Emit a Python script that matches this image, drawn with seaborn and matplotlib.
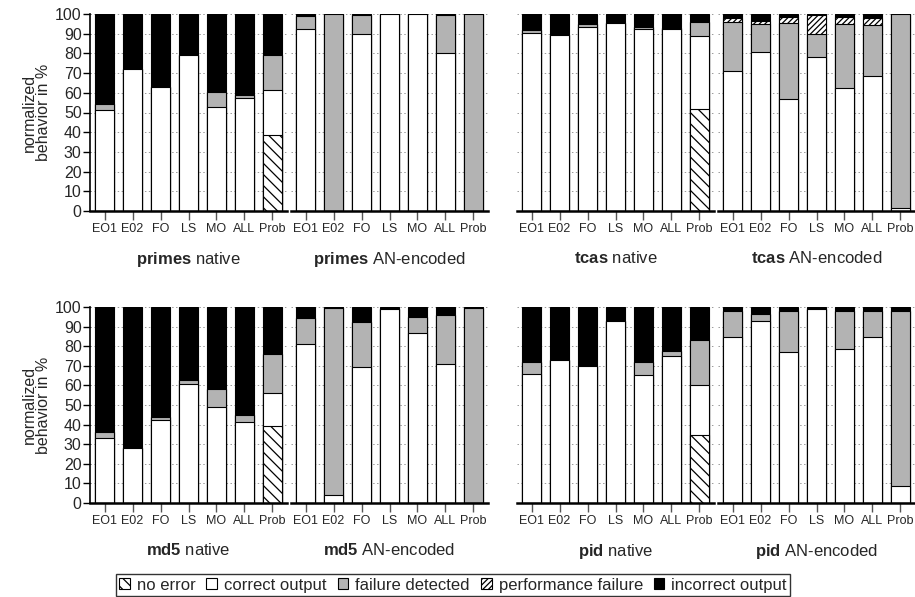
import matplotlib
matplotlib.use("Agg")
import matplotlib.pyplot as plt
from matplotlib.patches import Patch
import seaborn as sns
import numpy as np

sns.set_style("white")
plt.rcParams['font.family'] = ['Liberation Sans', 'DejaVu Sans']
plt.rcParams['mathtext.fontset'] = 'custom'
plt.rcParams['mathtext.rm'] = 'Liberation Sans'
plt.rcParams['mathtext.bf'] = 'Liberation Sans:bold'
plt.rcParams['hatch.linewidth'] = 0.9
plt.rcParams['hatch.color'] = 'black'

cats = ["EO1", "E02", "FO", "LS", "MO", "ALL", "Prob"]
legend_labels = ["no error", "correct output", "failure detected", "performance failure", "incorrect output"]

# order of segments: no error, correct, failure detected, performance failure, incorrect
primes_native = [
    [0, 0, 0, 0, 0, 0, 38.5],
    [51.5, 72, 63, 79, 53, 57.5, 23],
    [2.7, 0, 0, 0, 7.2, 1.5, 17.7],
    [0, 0, 0, 0, 0, 0, 0],
    [45.8, 28, 37, 21, 39.8, 41, 20.8],
]
primes_an = [
    [0, 0, 0, 0, 0, 0, 0],
    [92.6, 0, 89.9, 100, 99.8, 80.4, 0],
    [6.2, 100, 9.4, 0, 0, 19.1, 100],
    [0, 0, 0, 0, 0, 0, 0],
    [1.2, 0, 0.7, 0, 0.2, 0.5, 0],
]
tcas_native = [
    [0, 0, 0, 0, 0, 0, 52],
    [90.6, 89.2, 93.3, 95.4, 92.3, 92.5, 36.6],
    [1.1, 0, 1.7, 0, 0.9, 0.5, 7.3],
    [0, 0, 0, 0, 0, 0, 0],
    [8.3, 10.8, 5, 4.6, 6.8, 7, 4.1],
]
tcas_an = [
    [0, 0, 0, 0, 0, 0, 0],
    [71.2, 80.9, 56.9, 78.3, 62.3, 68.6, 1.4],
    [24.5, 14.1, 38.3, 11.5, 32.7, 25.6, 98.6],
    [2.1, 1.2, 3.1, 9.5, 3.3, 3.7, 0],
    [2.2, 3.8, 1.7, 0.7, 1.7, 2.1, 0],
]
md5_native = [
    [0, 0, 0, 0, 0, 0, 39.3],
    [33.2, 28.1, 42.5, 60.5, 49, 41.3, 16.6],
    [3, 0, 1.2, 2.4, 9.3, 3.6, 20.3],
    [0, 0, 0, 0, 0, 0, 0],
    [63.8, 71.9, 56.3, 37.1, 41.7, 55.1, 23.8],
]
md5_an = [
    [0, 0, 0, 0, 0, 0, 0],
    [80.9, 4.1, 69.4, 99, 86.7, 70.7, 0],
    [13.5, 95.5, 22.9, 0, 8.2, 25.2, 99.7],
    [0, 0, 0, 0, 0, 0, 0],
    [5.6, 0.4, 7.7, 1, 5.1, 4.1, 0.3],
]
pid_native = [
    [0, 0, 0, 0, 0, 0, 34.7],
    [65.8, 73.1, 69.7, 92.7, 65.3, 75, 25.5],
    [6.3, 0, 0, 0, 6.8, 2.7, 23.1],
    [0, 0, 0, 0, 0, 0, 0],
    [27.9, 26.9, 30.3, 7.3, 27.9, 22.3, 16.7],
]
pid_an = [
    [0, 0, 0, 0, 0, 0, 0],
    [84.5, 92.7, 77, 99, 78.6, 84.7, 8.5],
    [13.6, 3.5, 21, 0, 19.5, 13.4, 89.6],
    [0, 0, 0, 0, 0, 0, 0],
    [1.9, 3.8, 2, 1, 1.9, 1.9, 1.9],
]

gray = "#b3b3b3"
seg_styles = [("white", "\\\\\\"), ("white", ""), (gray, ""), ("white", "//////"), ("black", "")]


def draw_panel(ax, data, name, variant, show_y):
    tops = np.cumsum(np.array(data, dtype=float), axis=0)
    # draw from the tallest cumulative layer down so each segment shows
    for i in reversed(range(len(tops))):
        col, hatch = seg_styles[i]
        sns.barplot(x=cats, y=tops[i], color=col, saturation=1, hatch=hatch,
                    edgecolor="black", linewidth=0.8, width=0.71,
                    errorbar=None, ax=ax)
    ax.set_xlim(-0.52, 6.52)
    ax.set_ylim(0, 100)
    ax.set_yticks(range(0, 101, 10))
    ax.yaxis.grid(True, linestyle=(0, (1.5, 2.5)), color="#999999", linewidth=0.7)
    ax.set_axisbelow(True)
    for s in ["top", "right"]:
        ax.spines[s].set_visible(False)
    ax.spines["bottom"].set_linewidth(1.8)
    ax.spines["bottom"].set_color("black")
    ax.tick_params(axis="x", bottom=True, length=6.5, width=1, color="#555555",
                   labelsize=9, pad=2)
    if show_y:
        ax.spines["left"].set_linewidth(1.2)
        ax.spines["left"].set_color("black")
        ax.tick_params(axis="y", left=True, length=5, width=1, color="black",
                       labelsize=11.5, pad=1)
        ax.set_ylabel("normalized\nbehavior in %", fontsize=11.5, labelpad=3,
                      linespacing=0.95)
    else:
        ax.spines["left"].set_visible(False)
        ax.tick_params(axis="y", left=False, labelleft=False)
        ax.set_ylabel("")
    ax.set_xlabel(r"$\bf{" + name + "}$ " + variant, fontsize=12, labelpad=11)


fig = plt.figure(figsize=(9.15, 5.97), dpi=100)
W, H = 915, 597
lefts = [90, 291, 517, 718]
panel_w = 197
rows = [(14, 211), (307, 503)]

panels = [
    (primes_native, "primes", "native", 0, 0),
    (primes_an, "primes", "AN-encoded", 0, 1),
    (tcas_native, "tcas", "native", 0, 2),
    (tcas_an, "tcas", "AN-encoded", 0, 3),
    (md5_native, "md5", "native", 1, 0),
    (md5_an, "md5", "AN-encoded", 1, 1),
    (pid_native, "pid", "native", 1, 2),
    (pid_an, "pid", "AN-encoded", 1, 3),
]

for data, name, variant, r, c in panels:
    top, bot = rows[r]
    ax = fig.add_axes([lefts[c] / W, 1 - bot / H, panel_w / W, (bot - top) / H])
    draw_panel(ax, data, name, variant, show_y=(c == 0))

handles = [Patch(facecolor=col, edgecolor="black", hatch=h, linewidth=0.8)
           for col, h in seg_styles]
leg = fig.legend(handles, legend_labels, loc="center", bbox_to_anchor=(0.495, 0.02),
                 ncol=5, fontsize=12, frameon=True, fancybox=False,
                 handlelength=0.65, handleheight=0.65, handletextpad=0.42,
                 columnspacing=0.65, borderpad=0.2, borderaxespad=0)
leg.get_frame().set_edgecolor("black")
leg.get_frame().set_linewidth(1)

fig.savefig("out.png", dpi=100)
